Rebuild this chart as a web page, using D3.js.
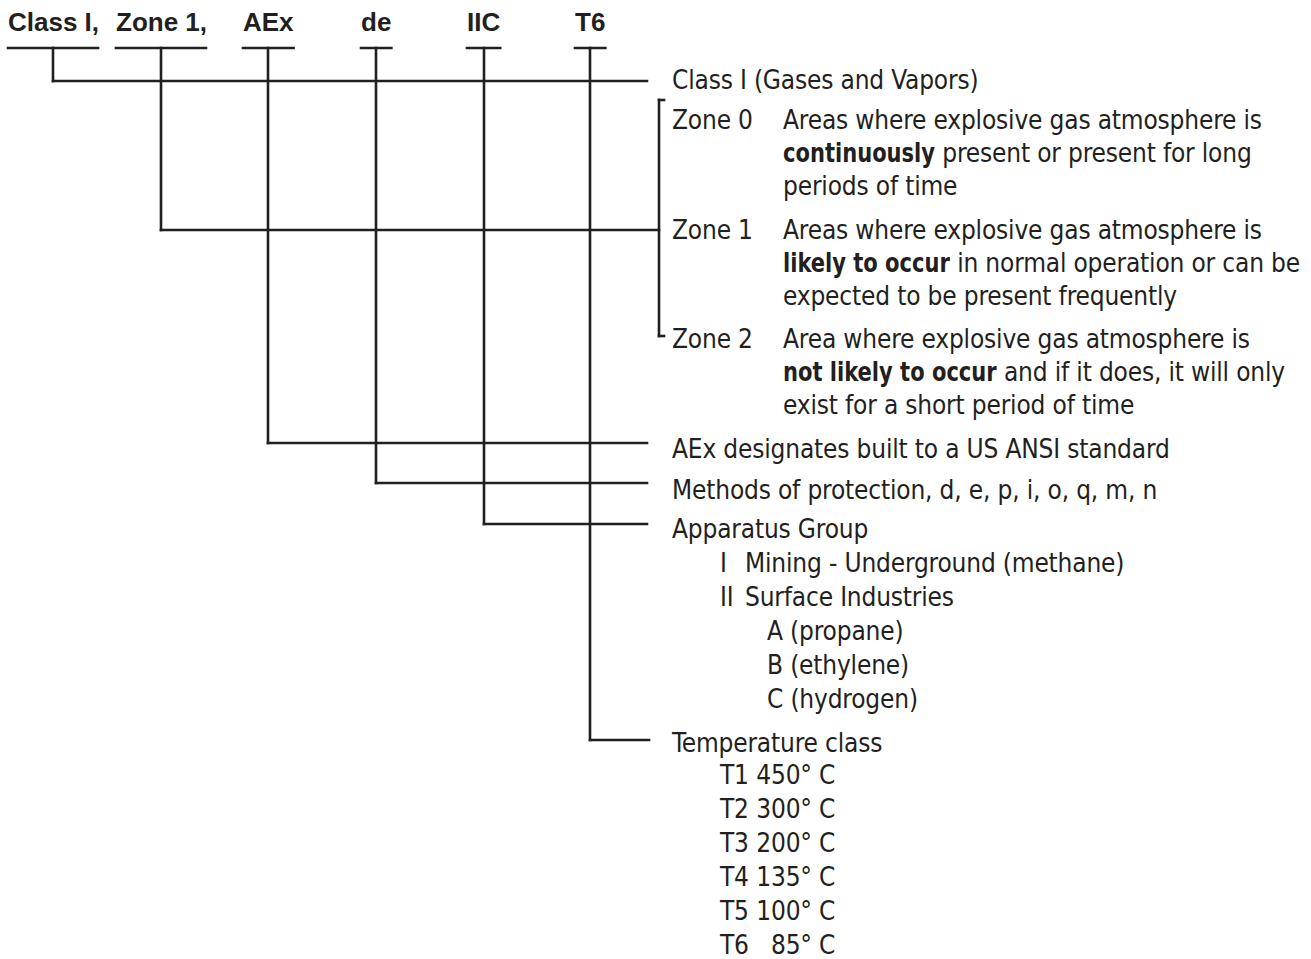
<!DOCTYPE html>
<html><head><meta charset="utf-8">
<script src="https://cdn.jsdelivr.net/npm/d3@7"></script>
<style>body{margin:0;background:#fff}svg{display:block}</style>
</head><body><svg id="c" width="1311" height="959"></svg>
<script>
// ---------- data ----------
const headerLabels = ["Class I,", "Zone 1,", "AEx", "de", "IIC", "T6"];
const classText = "Class I (Gases and Vapors)";
const zoneNames = ["Zone 0", "Zone 1", "Zone 2"];
const zoneLines = [
  [[["Areas where explosive gas atmosphere is", 0]],
   [["continuously", 1], [" present or present for long", 0]],
   [["periods of time", 0]]],
  [[["Areas where explosive gas atmosphere is", 0]],
   [["likely to occur", 1], [" in normal operation or can be", 0]],
   [["expected to be present frequently", 0]]],
  [[["Area where explosive gas atmosphere is", 0]],
   [["not likely to occur", 1], [" and if it does, it will only", 0]],
   [["exist for a short period of time", 0]]]
];
const aexText = "AEx designates built to a US ANSI standard";
const methodsText = "Methods of protection, d, e, p, i, o, q, m, n";
const apparatusTitle = "Apparatus Group";
const groupNumerals = ["I", "II"];
const groupNames = ["Mining - Underground (methane)", "Surface Industries"];
const gasGroups = ["A (propane)", "B (ethylene)", "C (hydrogen)"];
const tempTitle = "Temperature class";
const tempClasses = ["T1", "T2", "T3", "T4", "T5", "T6"];
const tempValues = ["450° C", "300° C", "200° C", "135° C", "100° C", "85° C"];

// ---------- layout ----------
const svg = d3.select("#c");
const ink = "#231f20";
const SW = 2.6;
const narrow = "'Liberation Sans Narrow','Arial Narrow','DejaVu Sans Condensed','Roboto Condensed',sans-serif";
const FS = 26;
const BOLD_SQUEEZE = 0.9;

// fit letter-spacing so the condensed font matches the reference width
const probe = svg.append("text").attr("font-family", narrow).attr("font-size", FS)
  .text("Areas where explosive gas atmosphere is");
const pw = probe.node().getComputedTextLength();
probe.remove();
const LS = (479 - pw) / 38;

function txt(x, y, parts, anchor) {
  let cx = x, last;
  (typeof parts === "string" ? [[parts, 0]] : parts).forEach(p => {
    const t = svg.append("text")
      .attr("font-family", narrow).attr("font-size", FS).attr("fill", ink)
      .attr("text-anchor", anchor || "start")
      .attr("font-weight", p[1] ? "bold" : "normal")
      .style("white-space", "pre").text(p[0]);
    if (p[1]) {
      // condensed bold: squeeze horizontally
      t.attr("transform", `translate(${cx},${y}) scale(${BOLD_SQUEEZE},1)`);
      cx += t.node().getComputedTextLength() * BOLD_SQUEEZE;
    } else {
      t.attr("x", cx).attr("y", y).style("letter-spacing", LS + "px");
      cx += t.node().getComputedTextLength();
    }
    last = t;
  });
  return last;
}
function line(x1, y1, x2, y2) {
  svg.append("line").attr("x1", x1).attr("y1", y1).attr("x2", x2).attr("y2", y2)
    .attr("stroke", ink).attr("stroke-width", SW).attr("stroke-linecap", "square");
}

// headers
const headerX = d3.scaleOrdinal().domain(headerLabels).range([8, 116, 243, 361, 467, 575]);
const headerBaseline = 31, underlineY = 48;
const leaderY = d3.scaleOrdinal().domain(headerLabels).range([81, 230, 443, 483, 524, 740]);
const leaderEnd = d3.scaleOrdinal().domain(headerLabels).range([647, 659, 647, 647, 647, 649]);

headerLabels.forEach(h => {
  const t = svg.append("text").attr("x", headerX(h)).attr("y", headerBaseline)
    .attr("font-family", "'Liberation Sans',Arial,Helvetica,sans-serif")
    .attr("font-weight", "bold").attr("font-size", 26).attr("fill", ink)
    .text(h);
  const w = t.node().getComputedTextLength();
  const x0 = headerX(h), x1 = x0 + w - (h.endsWith(",") ? 1 : 0);
  line(x0, underlineY, x1, underlineY);
  const cx = Math.round((x0 + x1) / 2);
  line(cx, underlineY, cx, leaderY(h));
  line(cx, leaderY(h), leaderEnd(h), leaderY(h));
});

// zone bracket
const bx = 659, bTop = 100, bBot = 336;
line(bx, bTop, bx, bBot);
line(bx, bTop, bx + 5, bTop);
line(bx, bBot, bx + 5, bBot);

const tx = 672;
txt(tx, 89, classText);

const zoneBase = d3.scaleOrdinal().domain(zoneNames).range([129, 239, 348]);
const lineStep = 33;
zoneNames.forEach((z, i) => {
  txt(tx, zoneBase(z), z);
  zoneLines[i].forEach((ln, j) => txt(783, zoneBase(z) + j * lineStep, ln));
});

txt(tx, 458, aexText);
txt(tx, 499, methodsText);
txt(tx, 538, apparatusTitle);
const rowStep = 34;
groupNumerals.forEach((n, i) => {
  txt(720, 572 + i * rowStep, n);
  txt(745, 572 + i * rowStep, groupNames[i]);
});
gasGroups.forEach((g, i) => txt(767, 640 + i * rowStep, g));

txt(tx, 752, tempTitle);
// right-align temperature values on the widest entry
const probe2 = txt(0, -100, "T1 450° C");
const fullW = probe2.node().getComputedTextLength();
probe2.remove();
tempClasses.forEach((c, i) => {
  txt(720, 784 + i * rowStep, c);
  txt(720 + fullW - LS, 784 + i * rowStep, tempValues[i], "end");
});
</script>
</body></html>
